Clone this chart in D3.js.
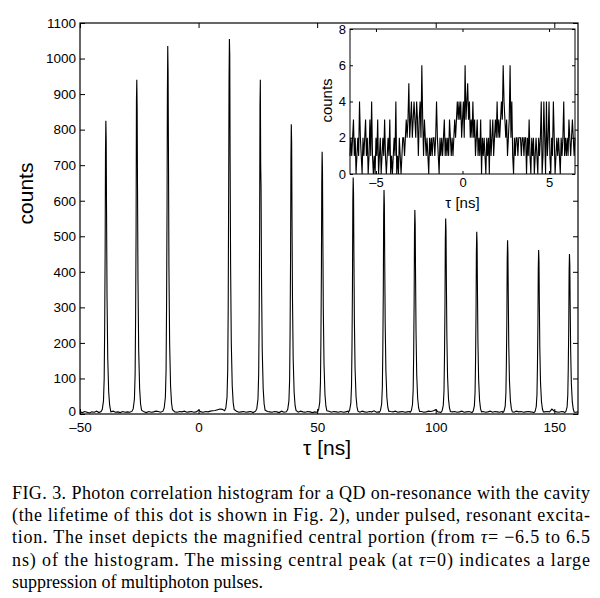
<!DOCTYPE html>
<html><head><meta charset="utf-8">
<script src="https://cdn.jsdelivr.net/npm/d3@7"></script>
<style>
body{margin:0;background:#fff}
svg{display:block}
.sans{font-family:"Liberation Sans",Arial,Helvetica,sans-serif}
.serif{font-family:"Liberation Serif","Times New Roman",serif}
</style>
</head><body>
<svg id="c" width="600" height="598"></svg>
<script>
// ---------------- data ----------------
// peak centres (ns) of the side peaks of the histogram
const peakCenters = [-39.1, -26.05, -13.0, 13.0, 26.05, 39.1, 52.1, 65.2, 78.2, 91.2, 104.2, 117.3, 130.3, 143.4, 156.4];
// offsets (ns) from each peak centre at which the peak counts are read
const peakOffsets = [-2.0, -1.5, -1.0, -0.7, -0.5, -0.3, -0.15, 0, 0.15, 0.3, 0.5, 0.8, 1.2, 1.6, 2.0];
// counts of each peak at the offsets above
const peakCounts = [
  [7, 13, 37, 99, 239, 454, 735, 825, 770, 561, 330, 157, 62, 25, 10],
  [8, 15, 42, 113, 273, 517, 880, 940, 860, 640, 376, 179, 71, 28, 11],
  [8, 17, 47, 124, 300, 570, 900, 1035, 960, 740, 414, 197, 78, 31, 12],
  [9, 17, 48, 127, 306, 650, 940, 1055, 1010, 720, 422, 200, 79, 32, 13],
  [8, 15, 42, 113, 273, 520, 870, 940, 700, 640, 376, 179, 71, 28, 11],
  [7, 13, 37, 98, 236, 448, 720, 815, 765, 554, 326, 155, 61, 24, 10],
  [6, 12, 33, 89, 214, 406, 650, 738, 690, 502, 295, 140, 55, 22, 9],
  [5, 11, 30, 80, 193, 366, 600, 665, 620, 452, 266, 126, 50, 20, 8],
  [5, 10, 28, 76, 183, 347, 560, 630, 590, 428, 252, 120, 47, 19, 8],
  [5, 9, 26, 69, 166, 316, 510, 574, 535, 390, 230, 109, 43, 17, 7],
  [4, 9, 25, 66, 160, 303, 490, 550, 515, 374, 220, 105, 41, 17, 7],
  [4, 8, 23, 62, 149, 282, 455, 513, 480, 349, 205, 97, 38, 15, 6],
  [4, 8, 22, 59, 142, 269, 435, 489, 455, 333, 196, 93, 37, 15, 6],
  [4, 7, 21, 55, 134, 254, 410, 461, 430, 313, 184, 88, 35, 14, 6],
  [4, 7, 20, 54, 131, 248, 400, 450, 420, 306, 180, 86, 34, 14, 5]
];
// background counts, one value per ns starting at -50 ns
const baselineStart = -50;
const baselineCounts = [
  6,4,7,5,3,6,5,8,4,6,  5,7,4,6,8,5,6,4,7,5,  6,5,8,4,6,7,5,6,4,7,
  5,6,8,7,5,6,9,6,5,7,  6,5,7,6,8,5,6,7,5,6,  11,6,5,7,6,8,9,10,12,14,
  13,8,6,5,7,6,8,5,6,7, 5,6,7,4,6,5,8,6,5,7,  6,5,7,6,4,8,5,6,7,5,
  6,7,5,8,6,5,7,6,4,6,  5,6,7,5,6,8,5,7,6,5,  7,5,6,8,6,5,7,6,5,8,
  6,5,7,6,9,5,6,7,5,6,  5,7,6,8,5,6,7,5,6,7,  6,5,8,6,7,5,6,8,7,9,
  12,6,5,7,6,5,8,6,7,5, 6,8,5,6,7,5,6,8,5,6,  7,5,6,8,5,7,6,5,7,6,
  5,7,6,5,8,6,7,5,6,7,  6,5,7,6,8,5,6,7,6,14, 8,6,5,7,6,5,7,6,8,5,
  6
];
// inset: counts in 0.05 ns bins from -6.5 ns to 6.5 ns
const insetStart = -6.5, insetStep = 0.05;
const insetCounts = [
  1,2,1,2,3,1,2,0,1,2,1,4,2,1,0,2,1,2,3,1,
  2,0,1,3,1,4,1,0,1,0,2,1,3,0,1,2,0,1,2,1,
  3,1,0,1,2,1,3,0,1,0,1,2,1,4,0,1,0,2,1,0,
  1,2,2,1,2,3,2,3,5,2,3,4,2,3,4,3,2,4,3,1,
  3,4,2,6,3,1,3,2,1,2,1,0,2,1,2,1,2,2,1,2,
  4,2,1,0,2,1,2,1,2,3,1,2,1,2,1,3,2,1,2,1,
  2,3,2,3,4,3,4,3,4,2,3,4,2,6,3,4,5,3,4,2,
  3,2,4,2,3,1,2,3,1,2,1,3,0,2,1,2,1,0,2,1,
  2,0,3,1,2,3,1,2,3,2,4,2,3,2,3,4,3,6,4,3,
  2,3,1,2,3,6,2,4,1,0,2,1,2,2,1,2,2,2,1,2,
  2,1,2,2,0,2,1,3,1,0,2,1,2,0,1,2,1,0,2,1,
  2,4,0,1,4,2,0,4,1,2,4,1,0,2,1,4,2,0,1,2,
  1,2,1,0,2,1,2,4,1,2,1,2,1,3,2,1,2,3,2,1,
  2
];
const mainXTicks = [-50, 0, 50, 100, 150];
const mainYTicks = [0, 100, 200, 300, 400, 500, 600, 700, 800, 900, 1000, 1100];
const insetXTicks = [-5, 0, 5];
const insetYTicks = [0, 2, 4, 6, 8];
const captionLines = [
  [{t:"FIG. 3. Photon correlation histogram for a QD on-resonance with the cavity"}],
  [{t:"(the lifetime of this dot is shown in Fig. 2), under pulsed, resonant excita-"}],
  [{t:"tion. The inset depicts the magnified central portion (from "},{t:"τ",i:true},{t:"= −6.5 to 6.5"}],
  [{t:"ns) of the histogram. The missing central peak (at "},{t:"τ",i:true},{t:"=0) indicates a large"}],
  [{t:"suppression of multiphoton pulses."}]
];

// ---------------- build main series ----------------
const mainSeries = [];
baselineCounts.forEach((c, i) => {
  const t = baselineStart + i;
  if (peakCenters.every(p => Math.abs(t - p) > 2.1)) mainSeries.push([t, c]);
});
peakCenters.forEach((p, j) => {
  peakOffsets.forEach((o, k) => mainSeries.push([p + o, peakCounts[j][k]]));
});
mainSeries.sort((a, b) => a[0] - b[0]);

const svg = d3.select("#c");
svg.append("rect").attr("width", 600).attr("height", 598).attr("fill", "#fff");

const fmt = d => d < 0 ? "–" + Math.abs(d) : String(d);

// ---------------- main axes ----------------
const M = {l: 80, r: 578, t: 23, b: 414};
const x = d3.scaleLinear().domain([-50, 160]).range([M.l, M.r]);
const y = d3.scaleLinear().domain([0, 1100]).range([M.b, M.t]);

const g = svg.append("g").attr("class", "sans");
g.append("path").datum(mainSeries)
  .attr("d", d3.line().x(d => x(d[0])).y(d => y(d[1])))
  .attr("fill", "none").attr("stroke", "#000").attr("stroke-width", 1.1);

function styleAxis(sel, fs) {
  sel.select(".domain").remove();
  sel.selectAll(".tick line").attr("stroke", "#000");
  sel.selectAll(".tick text").attr("fill", "#000").style("font-size", fs + "px")
    .style("font-family", '"Liberation Sans",Arial,Helvetica,sans-serif');
}
g.append("g").attr("transform", `translate(${M.l},0)`)
  .call(d3.axisLeft(y).tickValues(mainYTicks).tickSize(-5).tickPadding(4).tickFormat(fmt))
  .call(s => styleAxis(s, 13.5))
  .call(s => s.selectAll(".tick text").filter(d => d === 0).attr("dy", "0.12em"));
g.append("g").attr("transform", `translate(0,${M.b})`)
  .call(d3.axisBottom(x).tickValues(mainXTicks).tickSize(-5).tickPadding(8).tickFormat(fmt))
  .call(s => styleAxis(s, 13.5));
g.append("g").attr("transform", `translate(${M.r},0)`)
  .call(d3.axisRight(y).tickValues(mainYTicks).tickSize(-5).tickFormat(""))
  .call(s => styleAxis(s, 13.5));
g.append("g").attr("transform", `translate(0,${M.t})`)
  .call(d3.axisTop(x).tickValues(mainXTicks).tickSize(-5).tickFormat(""))
  .call(s => styleAxis(s, 13.5));
g.append("rect").attr("x", M.l).attr("y", M.t).attr("width", M.r - M.l).attr("height", M.b - M.t)
  .attr("fill", "none").attr("stroke", "#000").attr("stroke-width", 1.2);

g.append("text").attr("transform", `translate(33,${(M.t + M.b) / 2 - 25}) rotate(-90)`)
  .attr("text-anchor", "middle").style("font-size", "21px").text("counts");
g.append("text").attr("x", 327).attr("y", 455).attr("text-anchor", "middle")
  .style("font-size", "21px").text("τ [ns]");

// ---------------- inset ----------------
const I = {l: 350, r: 575, t: 29, b: 174};
const xi = d3.scaleLinear().domain([-6.5, 6.5]).range([I.l, I.r]);
const yi = d3.scaleLinear().domain([0, 8]).range([I.b, I.t]);
const gi = svg.append("g").attr("class", "sans");
gi.append("rect").attr("x", I.l).attr("y", I.t).attr("width", I.r - I.l).attr("height", I.b - I.t).attr("fill", "#fff");
gi.append("path").datum(insetCounts)
  .attr("d", d3.line().x((d, i) => xi(insetStart + i * insetStep)).y(d => yi(d)))
  .attr("fill", "none").attr("stroke", "#000").attr("stroke-width", 1.1);
gi.append("g").attr("transform", `translate(${I.l},0)`)
  .call(d3.axisLeft(yi).tickValues(insetYTicks).tickSize(-3).tickPadding(4).tickFormat(fmt))
  .call(s => styleAxis(s, 13));
gi.append("g").attr("transform", `translate(0,${I.b})`)
  .call(d3.axisBottom(xi).tickValues(insetXTicks).tickSize(-3).tickPadding(4).tickFormat(fmt))
  .call(s => styleAxis(s, 13));
gi.append("g").attr("transform", `translate(${I.r},0)`)
  .call(d3.axisRight(yi).tickValues(insetYTicks).tickSize(-3).tickFormat(""))
  .call(s => styleAxis(s, 13));
gi.append("g").attr("transform", `translate(0,${I.t})`)
  .call(d3.axisTop(xi).tickValues(insetXTicks).tickSize(-3).tickFormat(""))
  .call(s => styleAxis(s, 13));
gi.append("rect").attr("x", I.l).attr("y", I.t).attr("width", I.r - I.l).attr("height", I.b - I.t)
  .attr("fill", "none").attr("stroke", "#000").attr("stroke-width", 1);
gi.append("text").attr("transform", `translate(332,${(I.t + I.b) / 2 - 1}) rotate(-90)`)
  .attr("text-anchor", "middle").style("font-size", "15px").text("counts");
gi.append("text").attr("x", xi(0)).attr("y", 208).attr("text-anchor", "middle")
  .style("font-size", "15px").text("τ [ns]");

// ---------------- caption ----------------
const cap = svg.append("g").attr("class", "serif");
const capX = 12, capW = 578, capY0 = 499, capDY = 22.2;
captionLines.forEach((parts, i) => {
  const t = cap.append("text").attr("x", capX).attr("y", capY0 + i * capDY)
    .style("font-size", "18px").attr("fill", "#000");
  parts.forEach(p => t.append("tspan").style("font-style", p.i ? "italic" : "normal").text(p.t));
  if (i < captionLines.length - 1) t.attr("textLength", capW).attr("lengthAdjust", "spacing");
});
</script>
</body></html>
